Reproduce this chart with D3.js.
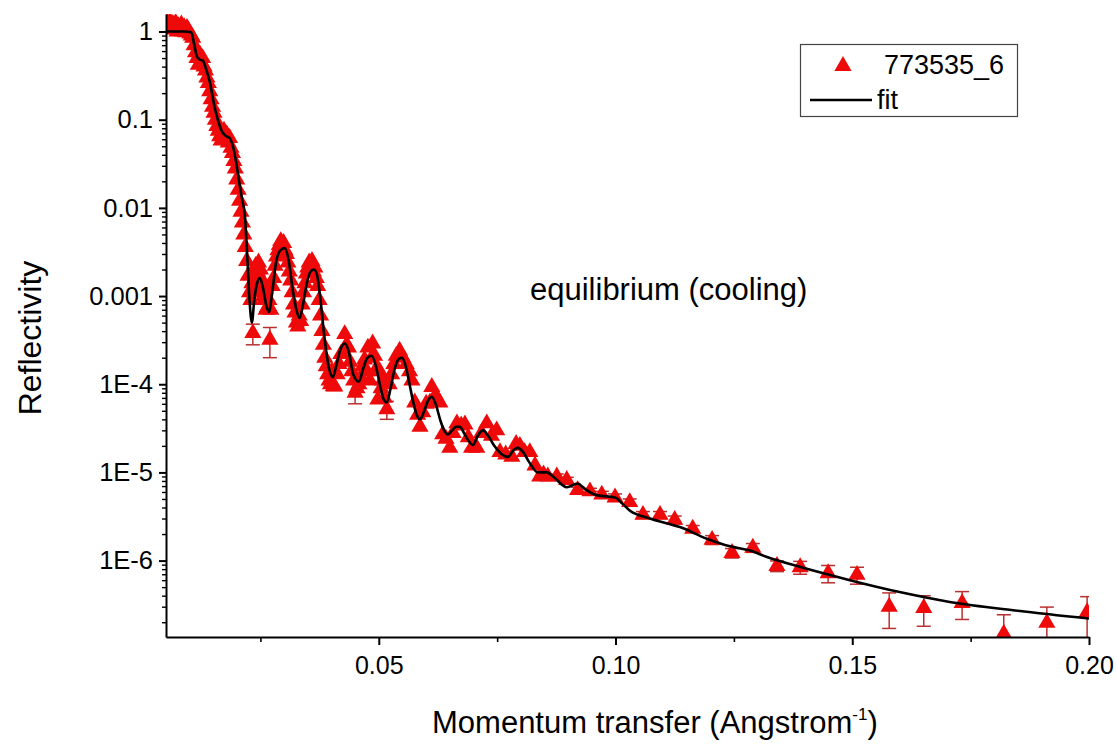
<!DOCTYPE html>
<html><head><meta charset="utf-8">
<script src="https://cdn.jsdelivr.net/npm/d3@7/dist/d3.min.js"></script>
<style>
body{margin:0;background:#fff;}
svg{display:block;font-family:"Liberation Sans",Arial,sans-serif;}
</style>
</head><body>
<svg id="chart" width="1117" height="748"></svg>
<script>
// measured reflectivity: [q, R, error]
const measured = [
[0.0053,1.25],[0.0056,1.15],[0.0059,1.3],[0.0062,1.1],[0.0065,1.22],[0.0068,1.05],[0.0071,1.25],[0.0074,1.0],[0.0077,1.15],[0.0080,1.08],[0.0083,1.2],[0.0086,1.0],[0.0089,1.12],[0.0092,0.98],[0.0095,1.1],[0.0098,1.02],[0.0101,0.95],[0.0104,0.9],
[0.0107,0.85],[0.0110,0.7],[0.0113,0.58],[0.0116,0.5],[0.0119,0.42],[0.0122,0.55],[0.0125,0.45],[0.0128,0.5],[0.0131,0.4],[0.0134,0.36],[0.0137,0.3],[0.0140,0.26],[0.0143,0.21],[0.0146,0.17],[0.0149,0.14],[0.0152,0.12],[0.0155,0.1],[0.0158,0.085],[0.0161,0.075],[0.0164,0.065],[0.0167,0.058],[0.0170,0.07],[0.0173,0.075],[0.0176,0.06],[0.0179,0.068],[0.0182,0.055],[0.0185,0.062],[0.0188,0.048],[0.0191,0.042],[0.0194,0.034],[0.0197,0.028],[0.0200,0.021],[0.0203,0.016],[0.0206,0.012],[0.0209,0.009],[0.0212,0.0068],[0.0215,0.005],[0.0218,0.0036],[0.0221,0.0025],[0.0224,0.0017],[0.0227,0.0011],
[0.0230,0.0009],[0.0232,0.0014],[0.0234,0.00038,0.0001],[0.0236,0.0018],[0.0238,0.0011],[0.0240,0.0022],[0.0242,0.0013],[0.0244,0.0019],[0.0246,0.0024],[0.0248,0.0016],[0.0250,0.002],[0.0252,0.0012],[0.0254,0.0015],[0.0256,0.001],[0.0258,0.0009],[0.0260,0.0012],[0.0262,0.0007],[0.0265,0.00075],[0.0268,0.0009],[0.0270,0.00032,0.00012],[0.0272,0.0007],[0.0275,0.0013],[0.0278,0.0016],[0.0281,0.0022],[0.0284,0.0028],[0.0287,0.0033],[0.0290,0.0038],[0.0293,0.0042],[0.0296,0.0036],[0.0299,0.0040],[0.0302,0.0033],[0.0305,0.0030],[0.0308,0.0024],[0.0311,0.0019],[0.0314,0.0015],[0.0317,0.0011],[0.0320,0.0008],[0.0323,0.00065],[0.0326,0.0005],[0.0329,0.00045],[0.0332,0.0006],[0.0335,0.00052],[0.0338,0.0008],[0.0341,0.0011],[0.0344,0.0014],[0.0347,0.0018],[0.0350,0.0021],[0.0353,0.0024],[0.0356,0.0022],[0.0359,0.0025],[0.0362,0.0019],[0.0365,0.0021],[0.0368,0.0016],[0.0371,0.0013],[0.0374,0.0009],[0.0377,0.0006],[0.0380,0.0004],[0.0383,0.00028],[0.0386,0.0002],[0.0389,0.00016],[0.0392,0.00013],[0.0395,0.00011],[0.0398,0.0001],[0.0401,0.00014],[0.0404,0.000095],
[0.0407,0.000094],[0.0412,0.00013],[0.0416,0.00017],[0.0420,0.00022],[0.0424,0.00023],[0.0428,0.00037],[0.0432,0.00028],[0.0436,0.00026],[0.0439,0.00018],[0.0443,0.00014],[0.0447,0.00011],[0.0450,0.00008,0.00002],[0.0454,0.00009],[0.0458,0.0001],[0.0462,0.00012],[0.0466,0.00016],[0.0470,0.00019],[0.0475,0.00014],[0.0477,0.00026],[0.0481,0.00011],[0.0485,0.0002],[0.0487,0.00029],[0.0491,0.00021],[0.0495,0.00015],[0.0498,0.000067],[0.0502,0.00014],[0.0505,0.00009],[0.0508,0.00011],[0.0512,0.00007],[0.0517,0.000052,0.000012],[0.0522,0.0001],[0.0527,0.00013],[0.0532,0.00017],[0.0537,0.00021],[0.0544,0.00024],[0.0551,0.0002],[0.0558,0.00017],[0.0565,0.00014],[0.0570,0.00011],[0.0576,0.000062],[0.0582,0.000045],[0.0587,0.000033],[0.0593,0.000048],[0.0600,0.00006],[0.0608,0.000062],[0.0612,0.000093],[0.0620,0.000075],[0.0629,0.000062],[0.0635,0.000027],[0.0642,0.000024],[0.0650,0.000019],[0.0657,0.000028],[0.0665,0.000036],[0.0674,0.000034],[0.0682,0.000035],[0.0689,0.000025],[0.0696,0.000019],[0.0707,0.000019],[0.0717,0.000028],[0.0728,0.000036],[0.0738,0.000026],[0.0749,0.00003],[0.0756,0.000017],[0.0768,0.000016],[0.0781,0.000015],[0.0790,0.000021],[0.0798,0.000020],[0.0808,0.000017],[0.0819,0.000017],[0.0830,0.000012],[0.0840,0.000009],[0.0848,0.0000095],[0.0857,0.000009],
[0.0876,0.0000090,0.0000006],[0.0897,0.0000082,0.0000006],[0.0920,0.0000063,0.0000005],[0.0946,0.0000061,0.0000005],[0.0971,0.0000056,0.0000005],[0.0999,0.0000052,0.0000005],[0.1030,0.0000046,0.0000004],[0.1058,0.0000033,0.0000003],[0.1094,0.0000033,0.0000003],[0.1125,0.0000029,0.0000003],[0.1163,0.0000023,0.0000002],[0.1204,0.00000172,0.0000002],[0.1246,0.00000122,0.00000015],[0.1290,0.0000014,0.00000016],[0.1341,0.00000087,0.00000012],[0.1390,0.00000084,0.00000014],[0.1449,0.00000072,0.00000016],[0.1510,0.00000069,0.00000015],[0.1578,0.0000003,0.00000013],[0.1651,0.00000029,0.00000011],[0.1732,0.00000033,0.000000115],[0.1820,0.000000148,0.000000095],[0.1911,0.000000197,0.0000001],[0.1996,0.00000026,0.00000013]
];

// fit curve
const fitQ = [0.0052,0.0070,0.0090,0.0104,0.0110,0.0116,0.0122,0.0128,0.0135,0.0143,0.0152,0.0160,0.0168,0.0176,0.0185,0.0192,0.0198,0.0205,0.0212,0.0217,0.0222,0.0227,0.0232,0.0237,0.0243,0.0249,0.0256,0.0262,0.0268,0.0275,0.0283,0.0292,0.0301,0.0310,0.0318,0.0326,0.0333,0.0340,0.0348,0.0356,0.0363,0.0370,0.0377,0.0385,0.0394,0.0403,0.0410,0.0418,0.0428,0.0437,0.0446,0.0458,0.0467,0.0476,0.0485,0.0494,0.0503,0.0510,0.0517,0.0525,0.0533,0.0541,0.0549,0.0557,0.0565,0.0573,0.0580,0.0587,0.0595,0.0604,0.0612,0.0620,0.0630,0.0638,0.0646,0.0655,0.0663,0.0671,0.0680,0.0689,0.0699,0.0709,0.0720,0.0731,0.0744,0.0757,0.0773,0.0785,0.0794,0.0805,0.0818,0.0836,0.0855,0.0870,0.0897,0.0920,0.0935,0.0961,0.0999,0.1015,0.1030,0.1073,0.1136,0.1193,0.1242,0.1284,0.1320,0.1389,0.1495,0.1600,0.1706,0.1850,0.2000];
const fitR = [1.0,1.0,1.0,0.98,0.72,0.52,0.48,0.47,0.38,0.27,0.15,0.1,0.075,0.066,0.062,0.05,0.035,0.02,0.012,0.0085,0.003,0.0009,0.0005,0.0009,0.0014,0.0016,0.0012,0.0008,0.00066,0.0011,0.0024,0.0033,0.0035,0.0025,0.0012,0.0007,0.00056,0.0008,0.0014,0.0019,0.002,0.0017,0.0009,0.00035,0.00016,0.00012,0.00016,0.00024,0.00029,0.00023,0.00013,0.000107,0.00015,0.0002,0.00021,0.00016,0.000095,0.000068,0.000062,0.00009,0.000145,0.00019,0.0002,0.00016,0.0001,0.000062,0.000045,0.00004,0.000048,0.000065,0.000072,0.00006,0.000039,0.00003,0.000027,0.00003,0.000033,0.000033,0.000028,0.000023,0.0000205,0.000026,0.00003,0.000026,0.00002,0.0000165,0.000015,0.000018,0.000019,0.000017,0.000013,0.00001,0.00001,0.0000088,0.0000068,0.0000075,0.0000065,0.0000055,0.0000052,0.0000044,0.0000037,0.000003,0.0000024,0.00000177,0.00000145,0.0000013,0.0000011,0.00000085,0.0000006,0.00000044,0.00000034,0.00000027,0.00000022];

const xTickValues = [0.05, 0.10, 0.15, 0.20];
const xTickLabels = ["0.05", "0.10", "0.15", "0.20"];
const xMinorValues = [0.025, 0.075, 0.125, 0.175];
const yTickValues = [1, 0.1, 0.01, 0.001, 1e-4, 1e-5, 1e-6];
const yTickLabels = ["1", "0.1", "0.01", "0.001", "1E-4", "1E-5", "1E-6"];
const legendLabels = ["773535_6", "fit"];
const annotation = "equilibrium (cooling)";
const yTitle = "Reflectivity";
const xTitleMain = "Momentum transfer (Angstrom";
const xTitleSup = "-1";
const xTitleEnd = ")";

const svg = d3.select("#chart");
const L = 166, R = 1089, T = 14, B = 637;
const RED = "#ee0a0a", ERR = "#b83030";

const x = d3.scaleLinear().domain([0.00506, 0.2]).range([L, R]);
const y = d3.scaleLog().domain([1.36e-7, 1.58]).range([B, T]);

svg.append("defs").append("clipPath").attr("id","clip")
  .append("rect").attr("x",L).attr("y",T).attr("width",R-L).attr("height",B-T);

const plot = svg.append("g").attr("clip-path","url(#clip)");

// error bars
const withErr = measured.filter(d => d[2]);
const eb = plot.append("g").attr("stroke", ERR).attr("stroke-width", 1.5).attr("fill","none");
withErr.forEach(d => {
  const cx = x(d[0]);
  const yTop = y(d[1] + d[2]);
  const lo = Math.max(d[1] - d[2], 1e-9);
  const yBot = y(lo);
  eb.append("line").attr("x1",cx).attr("x2",cx).attr("y1",yTop).attr("y2",yBot);
  eb.append("line").attr("x1",cx-7).attr("x2",cx+7).attr("y1",yTop).attr("y2",yTop);
  eb.append("line").attr("x1",cx-7).attr("x2",cx+7).attr("y1",yBot).attr("y2",yBot);
});

// triangles
const tri = d3.symbol().type(d3.symbolTriangle).size(128);
plot.append("g").selectAll("path").data(measured).join("path")
  .attr("d", tri)
  .attr("transform", d => `translate(${x(d[0])},${y(d[1])})`)
  .attr("fill", RED);

// fit line
const fitData = fitQ.map((q,i) => [q, fitR[i]]);
plot.append("path").datum(fitData)
  .attr("fill","none").attr("stroke","#000").attr("stroke-width",2.6)
  .attr("stroke-linejoin","round")
  .attr("d", d3.line().x(d => x(d[0])).y(d => y(d[1])).curve(d3.curveMonotoneX));

// axes
const xAxis = svg.append("g").attr("transform",`translate(0,${B})`)
  .call(d3.axisBottom(x).tickValues(xTickValues).tickSize(8).tickSizeOuter(0)
    .tickFormat((d,i) => xTickLabels[i]));
xAxis.select(".domain").attr("stroke-width",2);
xAxis.selectAll(".tick line").attr("stroke-width",2);
xAxis.selectAll(".tick text").attr("font-size",25).attr("dy","1.05em")
  .attr("font-family","Liberation Sans, Arial, sans-serif").attr("fill","#000");

const xMinor = svg.append("g").attr("transform",`translate(0,${B})`)
  .call(d3.axisBottom(x).tickValues(xMinorValues).tickSize(5).tickSizeOuter(0).tickFormat(""));
xMinor.select(".domain").remove();
xMinor.selectAll(".tick line").attr("stroke-width",1.6);

const yAxis = svg.append("g").attr("transform",`translate(${L},0)`)
  .call(d3.axisLeft(y).tickValues(yTickValues).tickSize(7).tickSizeOuter(0)
    .tickFormat((d,i) => yTickLabels[i]));
yAxis.select(".domain").attr("stroke-width",2);
yAxis.selectAll(".tick line").attr("stroke-width",2);
yAxis.selectAll(".tick text").attr("font-size",25.5).attr("x",-13)
  .attr("font-family","Liberation Sans, Arial, sans-serif").attr("fill","#000");

const majorSet = new Set(yTickValues.map(v => v.toExponential(3)));
const yMinorValues = y.ticks().filter(v => !majorSet.has(v.toExponential(3)));
const yMinor = svg.append("g").attr("transform",`translate(${L},0)`)
  .call(d3.axisLeft(y).tickValues(yMinorValues).tickSize(4).tickSizeOuter(0).tickFormat(""));
yMinor.select(".domain").remove();
yMinor.selectAll(".tick line").attr("stroke-width",1.4);

// axis titles
svg.append("text").attr("transform","translate(41,338) rotate(-90)")
  .attr("text-anchor","middle").attr("font-size",32).attr("fill","#000").text(yTitle);

const xt = svg.append("text").attr("x",432).attr("y",733).attr("font-size",31).attr("fill","#000");
xt.append("tspan").text(xTitleMain);
xt.append("tspan").attr("font-size",17).attr("dy",-13).text(xTitleSup);
xt.append("tspan").attr("dy",13).text(xTitleEnd);

// annotation
svg.append("text").attr("x",530).attr("y",300).attr("font-size",31).attr("fill","#000").text(annotation);

// legend
const lg = svg.append("g");
lg.append("rect").attr("x",800.5).attr("y",44.5).attr("width",217).attr("height",72)
  .attr("fill","#fff").attr("stroke","#444").attr("stroke-width",1.2);
lg.append("path").attr("d", d3.symbol().type(d3.symbolTriangle).size(128)())
  .attr("transform","translate(843,66)").attr("fill",RED);
lg.append("text").attr("x",884).attr("y",74).attr("font-size",27).attr("fill","#000").text(legendLabels[0]);
lg.append("line").attr("x1",810).attr("x2",872).attr("y1",100).attr("y2",100)
  .attr("stroke","#000").attr("stroke-width",2.6);
lg.append("text").attr("x",877).attr("y",109).attr("font-size",27).attr("fill","#000").text(legendLabels[1]);
</script>
</body></html>
